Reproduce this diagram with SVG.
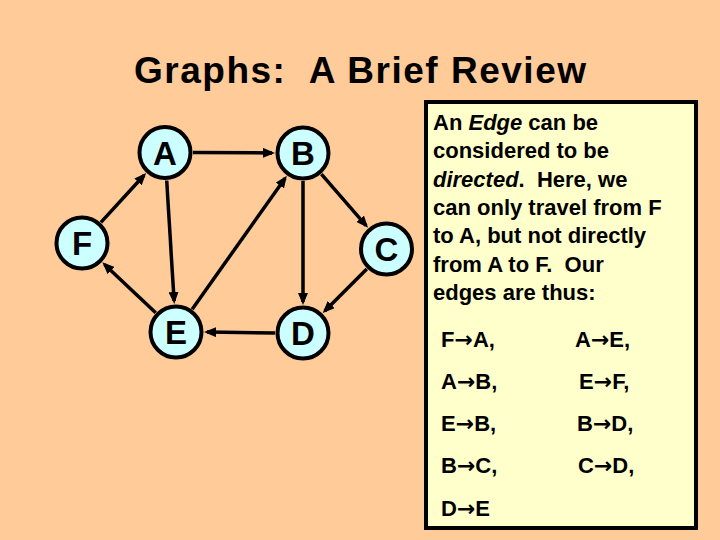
<svg xmlns="http://www.w3.org/2000/svg" width="720" height="540" viewBox="0 0 720 540">
<defs>
<style>
text{white-space:pre}
.node circle{fill:#CCFFFF;stroke:#000;stroke-width:4}
.node text{font-family:"Liberation Sans",Arial,sans-serif;font-weight:bold;font-size:33px;text-anchor:middle;fill:#000}
.edge{stroke:#000;stroke-width:3.5;fill:none;marker-end:url(#arr)}
.para{font-family:"Liberation Sans",Arial,sans-serif;font-weight:bold;font-size:22px;fill:#000}
.list{font-family:"Liberation Sans",Arial,sans-serif;font-weight:bold;font-size:22px;fill:#000}
.ar{font-family:"DejaVu Sans",sans-serif;font-weight:bold}
</style>
<marker id="arr" viewBox="0 0 12 10" refX="9" refY="5" markerWidth="12" markerHeight="10" markerUnits="userSpaceOnUse" orient="auto">
<path d="M0,0 L12,5 L0,10 Z" fill="#000"/>
</marker>
</defs>
<rect x="0" y="0" width="720" height="540" fill="#FFCC99"/>
<text x="134" y="83" xml:space="preserve" font-family="Liberation Sans,Arial,sans-serif" font-weight="bold" font-size="37" textLength="452" lengthAdjust="spacing">Graphs:  A Brief Review</text>

<g id="connectors">
<path class="edge" d="M100.9,222.4 L144.1,175.3"/>
<path class="edge" d="M193,152.6 L272,152.9"/>
<path class="edge" d="M166.7,180.5 L174.1,301"/>
<path class="edge" d="M155.7,312.7 L104.5,264.4"/>
<path class="edge" d="M192.2,309.2 L285.1,178.2"/>
<path class="edge" d="M303,181 L303,302"/>
<path class="edge" d="M321.4,174.1 L366.1,225.6"/>
<path class="edge" d="M366.8,268.9 L324.8,311"/>
<path class="edge" d="M275,333 L207,332"/>
</g>

<g id="node-A" class="node"><circle cx="165" cy="152.5" r="25.5"/><text x="165" y="164.5">A</text></g>
<g id="node-B" class="node"><circle cx="303" cy="153" r="25.5"/><text x="303" y="165">B</text></g>
<g id="node-C" class="node"><circle cx="386.5" cy="249" r="25.5"/><text x="386.5" y="261">C</text></g>
<g id="node-D" class="node"><circle cx="303" cy="333" r="25.5"/><text x="303" y="345">D</text></g>
<g id="node-E" class="node"><circle cx="176" cy="332" r="25.5"/><text x="176" y="344">E</text></g>
<g id="node-F" class="node"><circle cx="82" cy="243" r="25.5"/><text x="82" y="255">F</text></g>

<g id="textbox">
<rect x="426" y="102" width="270" height="426" fill="#FFFFCC" stroke="#000" stroke-width="4"/>
<text class="para" x="433" y="130">An <tspan font-style="italic">Edge</tspan> can be</text>
<text class="para" x="433" y="158.3">considered to be</text>
<text class="para" x="433" y="186.7" xml:space="preserve"><tspan font-style="italic">directed</tspan>.  Here, we</text>
<text class="para" x="433" y="215">can only travel from F</text>
<text class="para" x="433" y="243.3">to A, but not directly</text>
<text class="para" x="433" y="271.7" xml:space="preserve">from A to F.  Our</text>
<text class="para" x="433" y="300">edges are thus:</text>

<text class="list" x="441" y="347">F<tspan class="ar">→</tspan>A,</text>
<text class="list" x="575" y="347">A<tspan class="ar">→</tspan>E,</text>
<text class="list" x="441" y="389">A<tspan class="ar">→</tspan>B,</text>
<text class="list" x="579" y="389">E<tspan class="ar">→</tspan>F,</text>
<text class="list" x="441" y="431">E<tspan class="ar">→</tspan>B,</text>
<text class="list" x="577" y="431">B<tspan class="ar">→</tspan>D,</text>
<text class="list" x="441" y="473">B<tspan class="ar">→</tspan>C,</text>
<text class="list" x="578" y="473">C<tspan class="ar">→</tspan>D,</text>
<text class="list" x="441" y="516">D<tspan class="ar">→</tspan>E</text>
</g>
</svg>
